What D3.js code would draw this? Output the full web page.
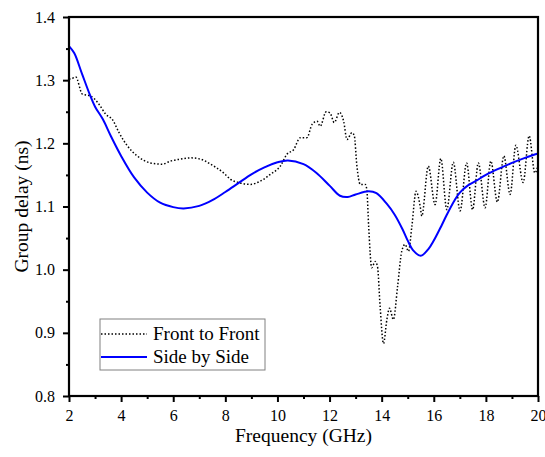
<!DOCTYPE html>
<html><head><meta charset="utf-8">
<script src="https://cdn.jsdelivr.net/npm/d3@7/dist/d3.min.js"></script>
<style>body{margin:0;background:#fff}svg{display:block}</style>
</head><body>
<script>
const sideFreq = [2,2.2,2.5,2.8,3.0,3.3,3.6,4.0,4.5,5,5.5,6,6.4,7,7.5,8,8.5,9,9.5,10,10.4,11,11.5,12,12.4,12.7,13,13.5,13.8,14.2,14.5,14.8,15.0,15.2,15.5,15.8,16.0,16.3,16.5,16.8,17.0,17.3,17.6,18,18.5,19,19.5,20];
const sideVal = [1.354,1.343,1.31,1.277,1.258,1.238,1.212,1.18,1.146,1.122,1.106,1.099,1.097,1.101,1.11,1.123,1.137,1.151,1.162,1.170,1.173,1.167,1.153,1.133,1.117,1.115,1.119,1.124,1.121,1.104,1.087,1.064,1.046,1.031,1.022,1.033,1.046,1.07,1.087,1.11,1.122,1.133,1.140,1.150,1.160,1.169,1.177,1.184];
const frontFreq = [2,2.07,2.26,2.51,2.83,3.15,3.41,3.66,3.92,4.24,4.62,5.13,5.58,5.9,6.28,6.66,7.05,7.43,7.94,8.2,8.5,8.96,9.34,9.73,10.11,10.37,10.62,10.88,11.13,11.33,11.52,11.64,11.87,12.02,12.18,12.38,12.54,12.67,12.86,12.95,13.05,13.18,13.37,13.43,13.5,13.62,13.75,13.84,13.94,14.07,14.2,14.3,14.45,14.61,14.77,14.9,15.03,15.16,15.32,15.48,15.54,15.79,16.05,16.27,16.5,16.75,17.01,17.26,17.49,17.71,17.97,18.19,18.44,18.69,18.93,19.15,19.43,19.66,19.88,20];
const frontVal = [1.302,1.302,1.305,1.278,1.275,1.262,1.246,1.238,1.217,1.196,1.180,1.169,1.167,1.172,1.175,1.177,1.175,1.167,1.153,1.143,1.138,1.135,1.140,1.151,1.164,1.183,1.190,1.209,1.209,1.230,1.235,1.227,1.250,1.248,1.233,1.249,1.235,1.206,1.217,1.212,1.164,1.135,1.135,1.127,1.069,1.003,1.013,1.005,0.942,0.883,0.921,0.939,0.921,0.973,1.029,1.040,1.029,1.069,1.124,1.100,1.085,1.164,1.103,1.176,1.095,1.170,1.093,1.169,1.095,1.169,1.098,1.172,1.107,1.180,1.119,1.197,1.138,1.212,1.153,1.165];
const xTicks = [2,4,6,8,10,12,14,16,18,20];
const yTicks = [0.8,0.9,1.0,1.1,1.2,1.3,1.4];
const seriesNames = ["Front to Front","Side by Side"];

const W=545,H=457;
const L=69,R=538,T=17,B=396;
const FF="Liberation Serif";
const svg=d3.select("body").append("svg").attr("width",W).attr("height",H);
const x=d3.scaleLinear().domain([2,20]).range([L,R]);
const y=d3.scaleLinear().domain([0.8,1.4]).range([B,T]);

const line=d3.line().x(d=>x(d[0])).y(d=>y(d[1])).curve(d3.curveMonotoneX);
const lineS=d3.line().x(d=>x(d[0])).y(d=>y(d[1])).curve(d3.curveCatmullRom.alpha(0.5));

svg.append("path").datum(frontFreq.map((f,i)=>[f,frontVal[i]]))
  .attr("d",line).attr("fill","none").attr("stroke","#000").attr("stroke-width",1.5)
  .attr("stroke-dasharray","1.5,2");
svg.append("path").datum(sideFreq.map((f,i)=>[f,sideVal[i]]))
  .attr("d",lineS).attr("fill","none").attr("stroke","#0000ff").attr("stroke-width",2);

svg.append("rect").attr("x",L).attr("y",T).attr("width",R-L).attr("height",B-T)
  .attr("fill","none").attr("stroke","#000").attr("stroke-width",2.2);

const xa=svg.append("g").attr("transform",`translate(0,${B})`)
  .call(d3.axisBottom(x).tickValues(xTicks).tickFormat(d3.format("d")).tickSize(6).tickPadding(8));
const xm=svg.append("g").attr("transform",`translate(0,${B})`)
  .call(d3.axisBottom(x).tickValues(d3.range(3,20,2)).tickFormat("").tickSize(3));
const ya=svg.append("g").attr("transform",`translate(${L},0)`)
  .call(d3.axisLeft(y).tickValues(yTicks).tickFormat(d3.format(".1f")).tickSize(6).tickPadding(8));
const ym=svg.append("g").attr("transform",`translate(${L},0)`)
  .call(d3.axisLeft(y).tickValues([0.85,0.95,1.05,1.15,1.25,1.35]).tickFormat("").tickSize(3));
[xa,xm,ya,ym].forEach(g=>{
  g.attr("font-family",FF);
  g.select(".domain").remove();
  g.selectAll("line").attr("stroke","#000").attr("stroke-width",2);
  g.selectAll("text").attr("font-family",FF).attr("font-size",16).attr("fill","#000");
});

svg.append("text").attr("x",(L+R)/2).attr("y",442).attr("text-anchor","middle")
  .attr("font-family",FF).attr("font-size",19.5).text("Frequency (GHz)");
svg.append("text").attr("transform",`translate(28,${(T+B)/2}) rotate(-90)`).attr("text-anchor","middle")
  .attr("font-family",FF).attr("font-size",19.5).text("Group delay (ns)");

const lg=svg.append("g");
lg.append("rect").attr("x",100).attr("y",319).attr("width",165).attr("height",51)
  .attr("fill","#fff").attr("stroke","#808080").attr("stroke-width",1);
lg.append("line").attr("x1",101).attr("x2",147).attr("y1",334).attr("y2",334)
  .attr("stroke","#000").attr("stroke-width",1.5).attr("stroke-dasharray","1.5,2");
lg.append("line").attr("x1",101).attr("x2",147).attr("y1",357).attr("y2",357)
  .attr("stroke","#0000ff").attr("stroke-width",2);
lg.append("text").attr("x",153).attr("y",340).attr("font-family",FF).attr("font-size",19).text(seriesNames[0]);
lg.append("text").attr("x",153).attr("y",363).attr("font-family",FF).attr("font-size",19).text(seriesNames[1]);
</script>
</body></html>
